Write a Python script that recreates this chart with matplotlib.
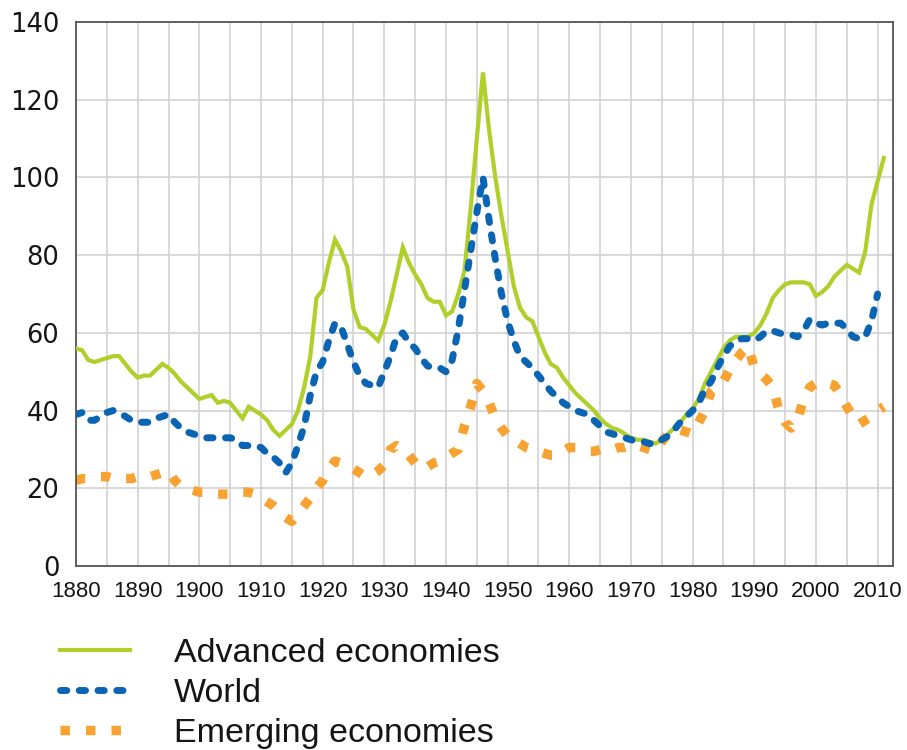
import matplotlib
matplotlib.use("Agg")
import matplotlib.pyplot as plt

# Data (public debt, % of GDP)
years = list(range(1880, 2012))

advanced = [
    56, 55.5, 53, 52.5, 53, 53.5, 54, 54, 52, 50,
    48.5, 49, 49, 50.5, 52, 51, 49.5, 47.5, 46, 44.5,
    43, 43.5, 44, 42, 42.5, 42, 40, 38, 41, 40,
    39, 37.5, 35, 33.5, 35, 36.5, 40, 46, 54, 69,
    71, 78, 84, 81, 77, 66, 61.5, 61, 59.5, 58,
    62, 68, 75, 82, 78, 75, 72.5, 69, 68, 68,
    64.5, 65.5, 70, 76, 92, 110, 127, 112, 100, 90,
    81, 72, 66.5, 64, 63, 59, 55, 52, 51, 48.5,
    46.5, 44.5, 43, 41.5, 40, 38, 36.5, 35.5, 35, 34,
    33, 32.5, 32.5, 32, 31.5, 32.5, 34, 35.5, 37, 39,
    40.5, 43, 47, 50, 53, 56, 58, 59, 59, 59,
    60, 62, 65, 69, 71, 72.5, 73, 73, 73, 72.5,
    69.5, 70.5, 72, 74.5, 76, 77.5, 76.5, 75.5, 81, 93,
    99, 105,
]

world = [
    39, 39.5, 37.5, 37.5, 38.5, 39.5, 40, 39.5, 38.5, 37.5,
    37, 37, 37, 38, 38.5, 39, 37, 35.5, 34.5, 34,
    33.5, 33, 33, 33, 33, 33, 32.5, 31, 31, 31,
    30.5, 29, 28, 26.5, 24, 26.5, 31, 36, 44, 50,
    52.5, 58, 62.5, 61.5, 57, 52.5, 49, 47, 46.5, 46,
    50, 54, 59, 60, 57.5, 56, 53.5, 51.5, 51, 51,
    50, 53, 61, 71, 81, 91, 100, 89, 79, 70,
    63, 58, 54, 52.5, 51, 49, 47, 45, 43.5, 42,
    41, 40, 39.5, 39, 37.5, 36, 34.5, 34, 33.5, 33,
    32.5, 32, 32, 31.5, 31.5, 32.5, 33.5, 35, 37, 38.5,
    40, 42, 45.5, 47.5, 51, 54, 56.5, 58, 58.5, 58.5,
    58, 59, 60.5, 60.5, 60, 59.5, 59.5, 59, 60.5, 63.5,
    62.5, 62, 62.5, 62.5, 62.5, 61, 59, 58.5, 59, 63,
    70,
]

emerging = [
    22, 22.5, 22.5, 22.5, 23, 23, 22.5, 22.5, 22.5, 22.5,
    23, 23, 23, 23.5, 24, 24.5, 22, 20.5, 20, 19.5,
    19, 19, 18.5, 18.5, 18.5, 18.5, 18.5, 19, 19, 18.5,
    17.5, 16.5, 15.5, 14, 12.5, 11.5, 13.5, 15.5, 17.5, 20,
    22, 25, 27, 26.5, 26, 25, 24, 23, 23.5, 24.5,
    26, 30, 31, 30, 28.5, 26.5, 25, 25.5, 26.5, 27,
    28, 29, 30, 36, 41, 47, 45, 42, 38, 35.5,
    33.5, 32.5, 31.5, 30.5, 30, 29.5, 29, 28.5, 28.5, 29.5,
    30.5, 30.5, 30, 29.5, 29.5, 30, 30, 30, 30.5, 30.5,
    31, 31, 30.5, 30, 29.5, 32, 34, 35, 35, 34.5,
    34, 37, 40, 45, 46.5, 47.5, 50.5, 53, 55, 56.5,
    51, 49.5, 48, 46, 40, 37, 35.5, 37.5, 43, 46,
    47, 47, 47, 46.5, 44, 41, 38.5, 36.5, 37.5, 38.5,
    40, 41,
]

labels = ["Advanced economies", "World", "Emerging economies"]

# colours
green = "#b0cf2a"
blue = "#0a64b4"
orange = "#f8a232"
grid_col = "#d2d2d2"
text_col = "#151515"

fig = plt.figure(figsize=(9.07, 7.5), dpi=100)
ax = fig.add_axes([0.0838, 0.2453, 0.9008, 0.7254])

ax.plot(years, advanced, color=green, lw=3.0, solid_joinstyle="miter",
        label=labels[0], zorder=3)
ax.plot(years[:len(world)], world, color=blue, lw=5.0,
        linestyle=(0, (0.9, 1.8)), dash_capstyle="round",
        label=labels[1], zorder=4)
ax.plot(years, emerging, color=orange, lw=6.8,
        linestyle=(0, (1.0, 1.7)), dash_capstyle="butt",
        label=labels[2], zorder=2)

ax.set_xlim(1880, 2012.5)
ax.set_ylim(0, 140)
ax.set_xticks(range(1880, 2011, 10))
ax.set_xticks(range(1885, 2011, 10), minor=True)
ax.set_yticks(range(0, 141, 20))
ax.grid(which="both", color=grid_col, lw=1.2, zorder=0)
ax.tick_params(which="both", length=0)
ax.tick_params(axis="x", pad=11, labelsize=16, labelcolor=text_col)
ax.tick_params(axis="y", pad=12, labelsize=18.5, labelcolor=text_col)
for lbl in ax.get_xticklabels():
    lbl.set_family("Liberation Sans")
for lbl in ax.get_yticklabels():
    lbl.set_family("DejaVu Sans")

for sp in ax.spines.values():
    sp.set_color("#555555")
    sp.set_linewidth(1.3)

leg = ax.legend(loc="upper left", bbox_to_anchor=(0.066, 0.150),
                bbox_transform=fig.transFigure, frameon=False,
                prop={"family": "Liberation Sans", "size": 24.5},
                handlelength=2.05, handletextpad=1.3, labelspacing=0.27,
                borderpad=0, borderaxespad=0)
for t in leg.get_texts():
    t.set_color(text_col)

fig.savefig("out.png", dpi=100)
